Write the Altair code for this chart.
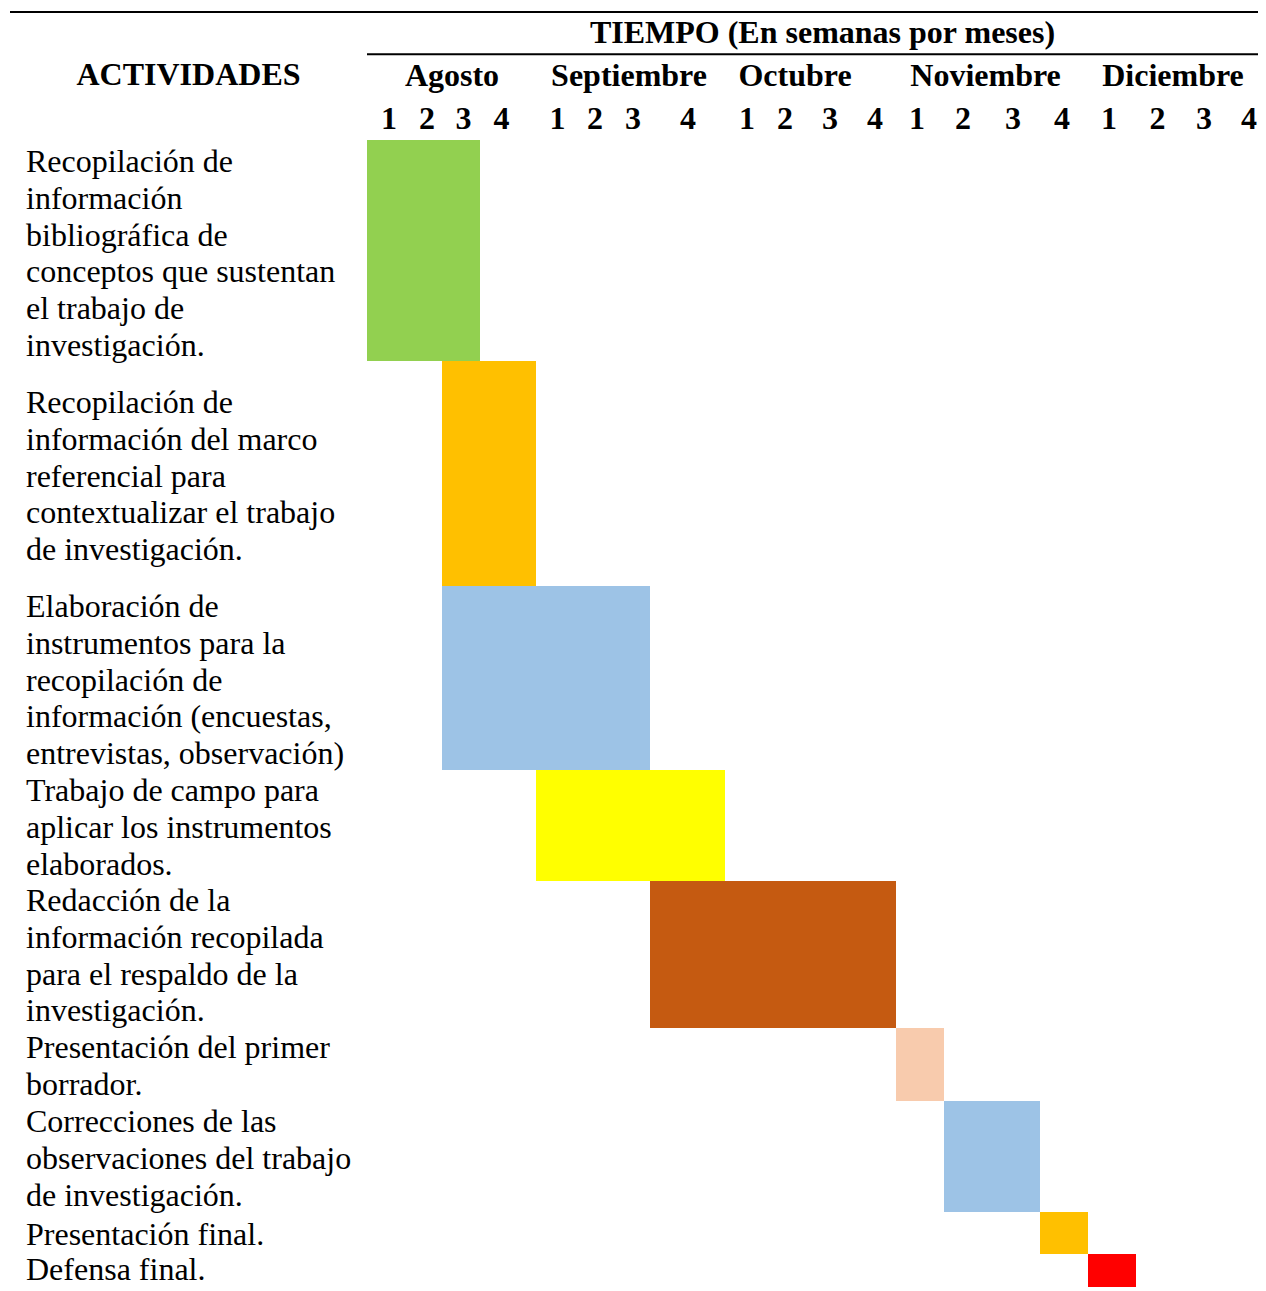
import altair as alt
import pandas as pd

# ---------------- data ----------------
activities = [
    ["Recopilación de", "información", "bibliográfica de", "conceptos que sustentan", "el trabajo de", "investigación."],
    ["Recopilación de", "información del marco", "referencial para", "contextualizar el trabajo", "de investigación."],
    ["Elaboración de", "instrumentos para la", "recopilación de", "información (encuestas,", "entrevistas, observación)"],
    ["Trabajo de campo para", "aplicar los instrumentos", "elaborados."],
    ["Redacción de la", "información recopilada", "para el respaldo de la", "investigación."],
    ["Presentación del primer", "borrador."],
    ["Correcciones de las", "observaciones del trabajo", "de investigación."],
    ["Presentación final."],
    ["Defensa final."],
]
# week index (0 = 1st week of Agosto); end is exclusive
start_week = [0, 2, 2, 4, 7, 12, 13, 15, 16]
end_week = [3, 4, 7, 8, 12, 13, 15, 16, 17]
bar_colors = ["#92D050", "#FFC000", "#9DC3E6", "#FFFF00", "#C55A11",
              "#F8CBAD", "#9DC3E6", "#FFC000", "#FF0000"]
months = ["Agosto", "Septiembre", "Octubre", "Noviembre", "Diciembre"]
week_labels = ["1", "2", "3", "4"]
title_time = "TIEMPO (En semanas por meses)"
title_act = "ACTIVIDADES"

# ---------------- layout (table geometry, in px of the time area) ----------------
col_widths = [42, 33, 38, 56, 41, 37, 36, 75, 43, 43, 42, 43,
              48, 44, 52, 48, 48, 44, 47, 39]
row_heights = [221, 225, 184, 111, 147, 73, 111, 42, 37]
label_lead = [32, 52, 31, 31, 30, 30, 31, 33, 26]
month_label_pos = [85, 262, 428, 618.5, 806]
week_label_pos = [22, 60, 96.5, 134.5, 190.5, 228, 266, 321, 380, 418,
                  463, 508, 550, 596, 646, 695, 742, 790.5, 837, 882]
title_time_pos = 455.5

FONT = "Liberation Serif"
FS = 32

col_edges = [0]
for w in col_widths:
    col_edges.append(col_edges[-1] + w)
row_edges = [0]
for h in row_heights:
    row_edges.append(row_edges[-1] + h)

W_TOTAL = col_edges[-1]
H_TOTAL = row_edges[-1]

xscale = alt.Scale(domain=[0, W_TOTAL], range=[359, 1258], nice=False, zero=False)
yscale = alt.Scale(domain=[0, H_TOTAL], range=[132, 1283], nice=False, zero=False)

bars_df = pd.DataFrame({
    "x": [col_edges[s] for s in start_week],
    "x2": [col_edges[e] for e in end_week],
    "y": [row_edges[i] for i in range(len(activities))],
    "y2": [row_edges[i + 1] for i in range(len(activities))],
    "color": bar_colors,
})

labels_df = pd.DataFrame({
    "label": ["\n".join(a) for a in activities],
    "y": [row_edges[i] + label_lead[i] for i in range(len(activities))],
})

months_df = pd.DataFrame({"month": months, "x": month_label_pos})
weeks_df = pd.DataFrame({"week": week_labels * len(months), "x": week_label_pos})

bars = alt.Chart(bars_df).mark_rect().encode(
    x=alt.X("x:Q", scale=xscale, axis=None),
    x2="x2:Q",
    y=alt.Y("y:Q", scale=yscale, axis=None),
    y2="y2:Q",
    color=alt.Color("color:N", scale=None),
)

labels = alt.Chart(labels_df).mark_text(
    font=FONT, fontSize=FS, align="left", baseline="alphabetic",
    lineBreak="\n", lineHeight=36.8, color="black",
).encode(
    x=alt.value(18),
    y=alt.Y("y:Q", scale=yscale, axis=None),
    text="label:N",
)

month_text = alt.Chart(months_df).mark_text(
    font=FONT, fontSize=FS, fontWeight="bold", align="center", baseline="alphabetic", color="black",
).encode(
    x=alt.X("x:Q", scale=xscale, axis=None),
    y=alt.value(77.5),
    text="month:N",
)

week_text = alt.Chart(weeks_df).mark_text(
    font=FONT, fontSize=FS, fontWeight="bold", align="center", baseline="alphabetic", color="black",
).encode(
    x=alt.X("x:Q", scale=xscale, axis=None),
    y=alt.value(120.7),
    text="week:N",
)

time_title = alt.Chart(pd.DataFrame({"t": [title_time], "x": [title_time_pos]})).mark_text(
    font=FONT, fontSize=FS, fontWeight="bold", align="center", baseline="alphabetic", color="black",
).encode(
    x=alt.X("x:Q", scale=xscale, axis=None),
    y=alt.value(34.7),
    text="t:N",
)

act_title = alt.Chart(pd.DataFrame({"t": [title_act]})).mark_text(
    font=FONT, fontSize=FS, fontWeight="bold", align="center", baseline="alphabetic", color="black",
).encode(
    x=alt.value(180.5),
    y=alt.value(76.5),
    text="t:N",
)

top_rule = alt.Chart(pd.DataFrame({"a": [0]})).mark_rule(color="black", strokeWidth=2).encode(
    x=alt.value(2), x2=alt.value(1258), y=alt.value(4),
)

sub_rule = alt.Chart(pd.DataFrame({"x": [0], "x2": [W_TOTAL]})).mark_rule(color="black", strokeWidth=2).encode(
    x=alt.X("x:Q", scale=xscale, axis=None), x2="x2:Q", y=alt.value(46.3),
)

chart = alt.layer(
    bars, labels, month_text, week_text, time_title, act_title, top_rule, sub_rule
).properties(
    width=1250, height=1279, autosize="none", padding=0, background="white",
).configure_view(stroke=None)

chart.save("out.html", embed_options={"renderer": "svg", "actions": False})
